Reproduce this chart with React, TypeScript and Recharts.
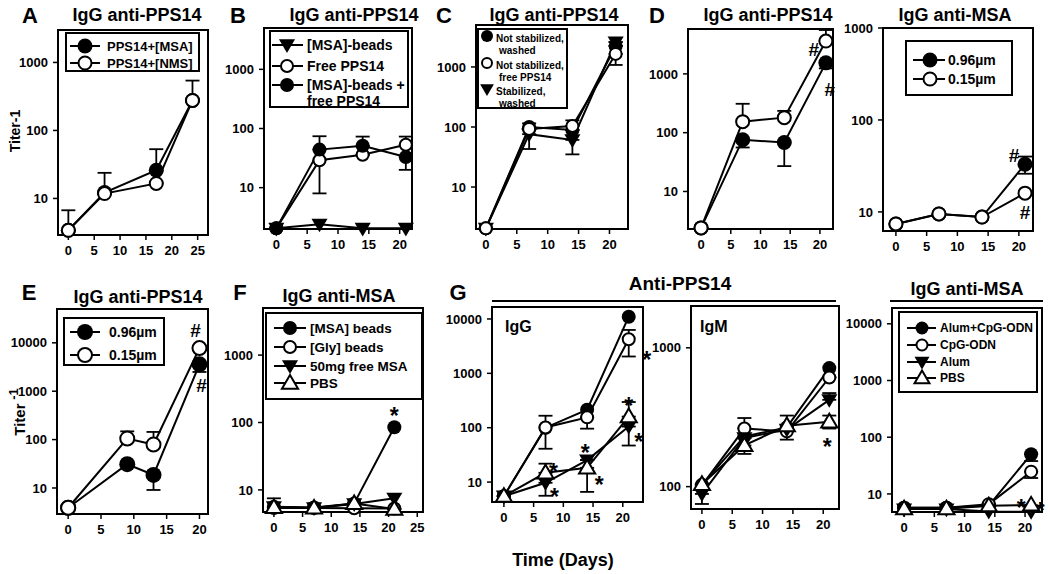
import React from "react";
import { LineChart, Line, XAxis, YAxis, ErrorBar, ReferenceArea, ReferenceDot } from "recharts";

const FONT = '"Liberation Sans", Arial, Helvetica, sans-serif';

type Kind = "fill" | "open" | "down" | "up";

// ---------------------------------------------------------------------------
// Data (titers; error = [below, above])
// ---------------------------------------------------------------------------

// A
const aDays = [0, 7, 17, 24];
const aMsa = [3.4, 12.2, 26, 276];
const aMsaErr = [[0, 0], [0, 0], [0, 27], [0, 265]];
const aNms = [3.4, 11.8, 16.6, 276];
const aNmsErr = [[0, 3.3], [0, 12], [0, 0], [0, 0]];
const aLabels = ["PPS14+[MSA]", "PPS14+[NMS]"];

// B
const bDays = [0, 7, 14, 21];
const bBeads = [2.05, 2.4, 2.05, 2.05];
const bFree = [2.05, 29, 36, 53];
const bFreeErr = [[0, 0], [21, 0], [0, 0], [0, 20]];
const bBoth = [2.05, 44, 51, 33];
const bBothErr = [[0, 0], [0, 30], [0, 22], [13, 0]];
const bLabels = [["[MSA]-beads"], ["Free PPS14"], ["[MSA]-beads +", "free PPS14"]];

// C
const cDays = [0, 7, 14, 21];
const cWashed = [2.05, 100, 89, 2240];
const cWashedErr = [[0, 0], [0, 15], [0, 0], [0, 0]];
const cFree = [2.05, 93, 104, 1650];
const cFreeErr = [[0, 0], [0, 0], [0, 25], [570, 0]];
const cStab = [2.05, 76, 61, 2600];
const cStabErr = [[0, 0], [33, 0], [26, 0], [0, 0]];
const cLabels = [["Not stabilized,", "washed"], ["Not stabilized,", "free PPS14"], ["Stabilized,", "washed"]];

// D (IgG anti-PPS14)
const dDays = [0, 7, 14, 21];
const dBig = [2.4, 76, 68, 1540];
const dBigErr = [[0, 0], [20, 0], [41, 0], [300, 0]];
const dSmall = [2.4, 154, 180, 3620];
const dSmallErr = [[0, 0], [0, 156], [0, 55], [0, 1950]];

// D (IgG anti-MSA)
const mDays = [0, 7, 14, 21];
const mBig = [7.4, 9.5, 8.8, 33];
const mBigErr = [[0, 0], [0, 0], [0, 0], [7, 7]];
const mSmall = [7.4, 9.5, 8.8, 16];
const sizeLabels = ["0.96\u00b5m", "0.15\u00b5m"];

// E
const eDays = [0, 9, 13, 20];
const eBig = [3.9, 31, 18.6, 3600];
const eBigErr = [[0, 0], [0, 0], [9.5, 0], [1100, 0]];
const eSmall = [3.9, 105, 79, 7770];
const eSmallErr = [[0, 0], [0, 43], [0, 65], [0, 0]];

// F
const fDays = [0, 7, 14, 21];
const fMsa = [5.6, 5.5, 6.3, 85];
const fGly = [5.4, 5.4, 5.35, 5.3];
const fFree = [5.6, 5.4, 6.2, 7.5];
const fPbs = [5.5, 5.4, 6.3, 5.2];
const fPbsErr = [[0, 2], [0, 0], [0, 0], [0, 0]];
const fLabels = ["[MSA] beads", "[Gly] beads", "50mg free MSA", "PBS"];

// G (IgG anti-PPS14)
const gDays = [0, 7, 14, 21];
const gBoth = [5.5, 100, 214, 11000];
const gCpg = [5.5, 101, 155, 4240];
const gCpgErr = [[0, 0], [60, 65], [59, 0], [2200, 2040]];
const gAlum = [5.5, 9.7, 25.4, 105];
const gAlumErr = [[0, 0], [4.1, 0], [0, 0], [58, 0]];
const gPbs = [5.5, 14.8, 18.3, 160];
const gPbsErr = [[0, 0], [0, 7], [11.7, 0], [0, 137]];

// G (IgM anti-PPS14)
const hBoth = [103, 230, 267, 714];
const hCpg = [102, 262, 250, 611];
const hCpgErr = [[0, 0], [0, 50], [32, 0], [0, 0]];
const hAlum = [88.6, 224, 258, 422];
const hAlumErr = [[13.6, 0], [0, 0], [0, 0], [0, 50]];
const hPbs = [104, 198, 275, 293];
const hPbsErr = [[0, 0], [26, 0], [0, 50], [31, 32]];

// G (IgG anti-MSA)
const kBoth = [5.7, 5.7, 6.2, 50];
const kBothErr = [[0, 0], [0, 0], [0, 0], [12, 0]];
const kCpg = [5.7, 5.7, 6.6, 24.7];
const kCpgErr = [[0, 0], [0, 0], [0, 0], [5.6, 0]];
const kAlum = [5.4, 5.4, 4.9, 4.85];
const kPbs = [5.5, 5.5, 6.2, 6.4];
const gLabels = ["Alum+CpG-ODN", "CpG-ODN", "Alum", "PBS"];

const ticks20 = [0, 5, 10, 15, 20];
const ticks25 = [0, 5, 10, 15, 20, 25];

// ---------------------------------------------------------------------------
// Markers
// ---------------------------------------------------------------------------

function Mark({ cx, cy, kind, r }: { cx: number; cy: number; kind: Kind; r: number }) {
  if (cx == null || cy == null || isNaN(cx) || isNaN(cy)) return null;
  if (kind === "fill") return <circle cx={cx} cy={cy} r={r} fill="#000" />;
  if (kind === "open") return <circle cx={cx} cy={cy} r={r - 1} fill="#fff" stroke="#000" strokeWidth={2} />;
  const s = r * 1.15;
  if (kind === "down")
    return <polygon points={`${cx - s},${cy - s * 0.7} ${cx + s},${cy - s * 0.7} ${cx},${cy + s}`} fill="#000" />;
  return (
    <polygon
      points={`${cx - s},${cy + s * 0.7} ${cx + s},${cy + s * 0.7} ${cx},${cy - s}`}
      fill="#fff"
      stroke="#000"
      strokeWidth={2}
    />
  );
}

// ---------------------------------------------------------------------------
// Panel
// ---------------------------------------------------------------------------

interface Series {
  kind: Kind;
  values: number[];
  err?: number[][];
}
interface Note {
  s: number;
  i: number;
  text: string;
  dx: number;
  dy: number;
}
interface PanelProps {
  box: number[];
  xDomain: number[];
  yDomain: number[];
  xTicks: number[];
  yTicks: number[];
  days: number[];
  series: Series[];
  notes?: Note[];
  r?: number;
}

const YW = 48;
const XH = 30;
const MT = 10;
const MR = 22;
const tickStyle = { fontSize: 13, fontWeight: 700, fill: "#000", fontFamily: FONT };

function Panel({ box, xDomain, yDomain, xTicks, yTicks, days, series, notes = [], r = 6.5 }: PanelProps) {
  const [x0, y0, x1, y1] = box;
  const width = x1 - x0 + YW + MR;
  const height = y1 - y0 + MT + XH;
  const data = days.map((d, i) => {
    const row: any = { day: d };
    series.forEach((s, k) => {
      row[`s${k}`] = s.values[i];
      row[`e${k}`] = s.err ? s.err[i] : [0, 0];
    });
    return row;
  });
  return (
    <div style={{ position: "absolute", left: x0 - YW, top: y0 - MT }}>
      <LineChart width={width} height={height} data={data} margin={{ top: MT, right: MR, left: 0, bottom: 0 }}>
        <XAxis
          dataKey="day"
          type="number"
          domain={xDomain}
          ticks={xTicks}
          interval={0}
          axisLine={false}
          tickLine={{ stroke: "#000", strokeWidth: 1.5 }}
          tickSize={5}
          tickMargin={6}
          tick={tickStyle}
          height={XH}
        />
        <YAxis
          scale="log"
          type="number"
          domain={yDomain}
          ticks={yTicks}
          interval={0}
          axisLine={false}
          tickLine={{ stroke: "#000", strokeWidth: 1.5 }}
          tickSize={5}
          tickMargin={5}
          tick={tickStyle}
          width={YW}
        />
        <ReferenceArea
          x1={xDomain[0]}
          x2={xDomain[1]}
          y1={yDomain[0]}
          y2={yDomain[1]}
          fill="none"
          fillOpacity={0}
          stroke="#000"
          strokeWidth={2}
          ifOverflow="visible"
        />
        {series.map((s, k) => (
          <Line
            key={k}
            dataKey={`s${k}`}
            type="linear"
            stroke="#000"
            strokeWidth={2}
            isAnimationActive={false}
            activeDot={false}
            dot={(p: any) => <Mark key={`d${k}-${p.index}`} cx={p.cx} cy={p.cy} kind={s.kind} r={r} />}
          >
            {s.err && (
              <ErrorBar
                dataKey={`e${k}`}
                direction="y"
                width={7}
                stroke="#000"
                strokeWidth={1.8}
                isAnimationActive={false}
              />
            )}
          </Line>
        ))}
        {notes.map((n, j) => (
          <ReferenceDot
            key={`n${j}`}
            x={days[n.i]}
            y={series[n.s].values[n.i]}
            r={0}
            ifOverflow="visible"
            shape={(p: any) => (
              <text
                x={p.cx + n.dx}
                y={p.cy + n.dy + (n.text === "*" ? 13 : 7)}
                textAnchor="middle"
                fontSize={n.text === "*" ? 23 : 19}
                fontWeight={700}
                fontFamily={FONT}
                fill="#000"
              >
                {n.text}
              </text>
            )}
          />
        ))}
      </LineChart>
    </div>
  );
}

// ---------------------------------------------------------------------------
// Legend boxes
// ---------------------------------------------------------------------------

interface LegendSpec {
  box: number[];
  kinds: Kind[];
  labels: string[][];
  rows: number[];
  line?: number[];
  markX: number;
  textX: number;
  font: number;
  r: number;
  lineH?: number;
  textDy?: number;
  indent?: number;
}

function LegendBox({ spec }: { spec: LegendSpec }) {
  const [x0, y0, x1, y1] = spec.box;
  return (
    <svg style={{ position: "absolute", left: x0, top: y0 }} width={x1 - x0} height={y1 - y0}>
      <rect x={1} y={1} width={x1 - x0 - 2} height={y1 - y0 - 2} fill="#fff" stroke="#000" strokeWidth={2} />
      {spec.kinds.map((kind, k) => {
        const y = spec.rows[k];
        return (
          <g key={k}>
            {spec.line && <line x1={spec.line[0]} x2={spec.line[1]} y1={y} y2={y} stroke="#000" strokeWidth={2} />}
            <Mark cx={spec.markX} cy={y} kind={kind} r={spec.r} />
            {spec.labels[k].map((t, j) => (
              <text
                key={j}
                x={spec.textX + (j > 0 ? spec.indent || 0 : 0)}
                y={y + (spec.textDy || 0) + j * (spec.lineH || 15)}
                dominantBaseline="central"
                fontSize={spec.font}
                fontWeight={700}
                fontFamily={FONT}
                fill="#000"
              >
                {t}
              </text>
            ))}
          </g>
        );
      })}
    </svg>
  );
}

// ---------------------------------------------------------------------------
// App
// ---------------------------------------------------------------------------

function T({ x, y, size, children, anchor = "middle" }: any) {
  return (
    <text
      x={x}
      y={y}
      textAnchor={anchor}
      dominantBaseline="central"
      fontSize={size}
      fontWeight={700}
      fontFamily={FONT}
      fill="#000"
    >
      {children}
    </text>
  );
}

export default function App() {
  return (
    <div
      style={{
        position: "absolute",
        left: 0,
        top: 0,
        width: 1050,
        height: 574,
        background: "#fff",
        fontFamily: FONT,
        overflow: "hidden",
      }}
    >
      <Panel
        box={[58, 30, 208, 235]}
        xDomain={[-2, 27]}
        yDomain={[2.9, 3000]}
        xTicks={ticks25}
        yTicks={[10, 100, 1000]}
        days={aDays}
        r={7.5}
        series={[
          { kind: "fill", values: aMsa, err: aMsaErr },
          { kind: "open", values: aNms, err: aNmsErr },
        ]}
      />
      <Panel
        box={[264, 28, 412, 229]}
        xDomain={[-2, 22]}
        yDomain={[2, 5000]}
        xTicks={ticks20}
        yTicks={[10, 100, 1000]}
        days={bDays}
        r={7}
        series={[
          { kind: "down", values: bBeads },
          { kind: "open", values: bFree, err: bFreeErr },
          { kind: "fill", values: bBoth, err: bBothErr },
        ]}
      />
      <Panel
        box={[476, 25, 628, 229]}
        xDomain={[-1.6, 23]}
        yDomain={[2, 5000]}
        xTicks={ticks20}
        yTicks={[10, 100, 1000]}
        days={cDays}
        r={7}
        series={[
          { kind: "fill", values: cWashed, err: cWashedErr },
          { kind: "down", values: cStab, err: cStabErr },
          { kind: "open", values: cFree, err: cFreeErr },
        ]}
      />
      <Panel
        box={[688, 29, 833, 229]}
        xDomain={[-2.2, 22.2]}
        yDomain={[2.3, 5800]}
        xTicks={ticks20}
        yTicks={[10, 100, 1000]}
        days={dDays}
        r={7.5}
        series={[
          { kind: "fill", values: dBig, err: dBigErr },
          { kind: "open", values: dSmall, err: dSmallErr },
        ]}
        notes={[
          { s: 1, i: 3, text: "#", dx: -12, dy: 8 },
          { s: 0, i: 3, text: "#", dx: 4, dy: 26 },
        ]}
      />
      <Panel
        box={[883, 28, 1033, 231]}
        xDomain={[-2.1, 22.3]}
        yDomain={[6.2, 1000]}
        xTicks={ticks20}
        yTicks={[10, 100, 1000]}
        days={mDays}
        r={7.5}
        series={[
          { kind: "fill", values: mBig, err: mBigErr },
          { kind: "open", values: mSmall },
        ]}
        notes={[
          { s: 0, i: 3, text: "#", dx: -11, dy: -9 },
          { s: 1, i: 3, text: "#", dx: 0, dy: 19 },
        ]}
      />
      <Panel
        box={[57, 309, 208, 514]}
        xDomain={[-1.7, 21.3]}
        yDomain={[2.9, 50000]}
        xTicks={ticks20}
        yTicks={[10, 100, 1000, 10000]}
        days={eDays}
        r={8}
        series={[
          { kind: "fill", values: eBig, err: eBigErr },
          { kind: "open", values: eSmall, err: eSmallErr },
        ]}
        notes={[
          { s: 1, i: 3, text: "#", dx: -4, dy: -18 },
          { s: 0, i: 3, text: "#", dx: 2, dy: 21 },
        ]}
      />
      <Panel
        box={[263, 308, 423, 512]}
        xDomain={[-1.9, 26]}
        yDomain={[4.7, 5000]}
        xTicks={ticks25}
        yTicks={[10, 100, 1000]}
        days={fDays}
        r={7}
        series={[
          { kind: "fill", values: fMsa },
          { kind: "open", values: fGly },
          { kind: "down", values: fFree },
          { kind: "up", values: fPbs, err: fPbsErr },
        ]}
        notes={[{ s: 0, i: 3, text: "*", dx: 0, dy: -16 }]}
      />
      <Panel
        box={[492, 307, 643, 502]}
        xDomain={[-2, 23.4]}
        yDomain={[4.3, 16600]}
        xTicks={ticks20}
        yTicks={[10, 100, 1000, 10000]}
        days={gDays}
        r={7}
        series={[
          { kind: "fill", values: gBoth },
          { kind: "open", values: gCpg, err: gCpgErr },
          { kind: "down", values: gAlum, err: gAlumErr },
          { kind: "up", values: gPbs, err: gPbsErr },
        ]}
        notes={[
          { s: 1, i: 3, text: "*", dx: 18, dy: 16 },
          { s: 2, i: 2, text: "*", dx: -2, dy: -12 },
          { s: 3, i: 1, text: "*", dx: 8, dy: -6 },
          { s: 2, i: 1, text: "*", dx: 9, dy: 9 },
          { s: 3, i: 2, text: "*", dx: 12, dy: 12 },
          { s: 3, i: 3, text: "*", dx: 0, dy: -16 },
          { s: 2, i: 3, text: "*", dx: 10, dy: 10 },
        ]}
      />
      <Panel
        box={[691, 306, 839, 509]}
        xDomain={[-1.8, 22.6]}
        yDomain={[69, 2000]}
        xTicks={ticks20}
        yTicks={[100, 1000]}
        days={gDays}
        r={7}
        series={[
          { kind: "fill", values: hBoth },
          { kind: "open", values: hCpg, err: hCpgErr },
          { kind: "down", values: hAlum, err: hAlumErr },
          { kind: "up", values: hPbs, err: hPbsErr },
        ]}
        notes={[{ s: 3, i: 3, text: "*", dx: -2, dy: 20 }]}
      />
      <Panel
        box={[892, 308, 1042, 512]}
        xDomain={[-2, 22.8]}
        yDomain={[4.8, 19000]}
        xTicks={ticks20}
        yTicks={[10, 100, 1000, 10000]}
        days={gDays}
        r={7}
        series={[
          { kind: "fill", values: kBoth, err: kBothErr },
          { kind: "open", values: kCpg, err: kCpgErr },
          { kind: "down", values: kAlum },
          { kind: "up", values: kPbs },
        ]}
        notes={[
          { s: 3, i: 3, text: "*", dx: -10, dy: -2 },
          { s: 3, i: 3, text: "*", dx: 9, dy: 1 },
        ]}
      />

      <LegendBox
        spec={{
          box: [65, 32, 200, 72],
          kinds: ["fill", "open"],
          labels: aLabels.map((l) => [l]),
          rows: [14, 31],
          line: [5, 35],
          markX: 20,
          textX: 42,
          font: 13,
          r: 7.5,
        }}
      />
      <LegendBox
        spec={{
          box: [269, 30, 409, 108],
          kinds: ["down", "open", "fill"],
          labels: bLabels,
          rows: [15, 36, 55],
          line: [3, 34],
          markX: 18,
          textX: 38,
          font: 14,
          r: 7,
          lineH: 16,
        }}
      />
      <LegendBox
        spec={{
          box: [477, 28, 568, 109],
          kinds: ["fill", "open", "down"],
          labels: cLabels,
          rows: [8, 35, 61],
          markX: 10,
          textX: 19,
          font: 10,
          r: 6,
          lineH: 12.5,
          textDy: 2,
          indent: 3,
        }}
      />
      <LegendBox
        spec={{
          box: [905, 40, 1013, 96],
          kinds: ["fill", "open"],
          labels: sizeLabels.map((l) => [l]),
          rows: [20, 39],
          line: [8, 40],
          markX: 25,
          textX: 43,
          font: 14,
          r: 7.5,
        }}
      />
      <LegendBox
        spec={{
          box: [63, 317, 165, 366],
          kinds: ["fill", "open"],
          labels: sizeLabels.map((l) => [l]),
          rows: [15, 38],
          line: [7, 37],
          markX: 22,
          textX: 46,
          font: 14,
          r: 8,
        }}
      />
      <LegendBox
        spec={{
          box: [265, 312, 423, 400],
          kinds: ["fill", "open", "down", "up"],
          labels: fLabels.map((l) => [l]),
          rows: [16, 35, 54, 71],
          line: [9, 41],
          markX: 25,
          textX: 45,
          font: 13.5,
          r: 7,
        }}
      />
      <LegendBox
        spec={{
          box: [898, 311, 1038, 393],
          kinds: ["fill", "open", "down", "up"],
          labels: gLabels.map((l) => [l]),
          rows: [17, 34, 51, 67],
          line: [9, 38],
          markX: 24,
          textX: 42,
          font: 12,
          r: 6.5,
        }}
      />

      <svg style={{ position: "absolute", left: 0, top: 0, pointerEvents: "none" }} width={1050} height={574}>
        <T x={30} y={15} size={22}>A</T>
        <T x={238} y={15} size={22}>B</T>
        <T x={444} y={15} size={22}>C</T>
        <T x={657} y={15} size={22}>D</T>
        <T x={29} y={292} size={22}>E</T>
        <T x={240} y={292} size={22}>F</T>
        <T x={458} y={292} size={22}>G</T>

        <T x={137} y={15} size={18}>IgG anti-PPS14</T>
        <T x={354} y={15} size={18}>IgG anti-PPS14</T>
        <T x={554} y={15} size={18}>IgG anti-PPS14</T>
        <T x={768} y={15} size={18}>IgG anti-PPS14</T>
        <T x={955} y={15} size={18}>IgG anti-MSA</T>
        <T x={138} y={297} size={18}>IgG anti-PPS14</T>
        <T x={339} y={296} size={18}>IgG anti-MSA</T>

        <T x={680} y={283} size={19}>Anti-PPS14</T>
        <line x1={492} x2={836} y1={301} y2={301} stroke="#000" strokeWidth={2} />
        <T x={967} y={289} size={18}>IgG anti-MSA</T>
        <line x1={890} x2={1043} y1={301} y2={301} stroke="#000" strokeWidth={2} />

        <T x={505} y={326} size={16} anchor="start">IgG</T>
        <T x={700} y={326} size={16} anchor="start">IgM</T>

        <T x={563} y={560} size={18}>Time (Days)</T>

        <text
          transform="translate(15,131) rotate(-90)"
          textAnchor="middle"
          dominantBaseline="central"
          fontSize={14}
          fontWeight={700}
          fontFamily={FONT}
        >
          Titer-1
        </text>
        <text
          transform="translate(19,412) rotate(-90)"
          textAnchor="middle"
          dominantBaseline="central"
          fontSize={15}
          fontWeight={700}
          fontFamily={FONT}
        >
          Titer
          <tspan dy={-6} fontSize={13}> -1</tspan>
        </text>
      </svg>
    </div>
  );
}
